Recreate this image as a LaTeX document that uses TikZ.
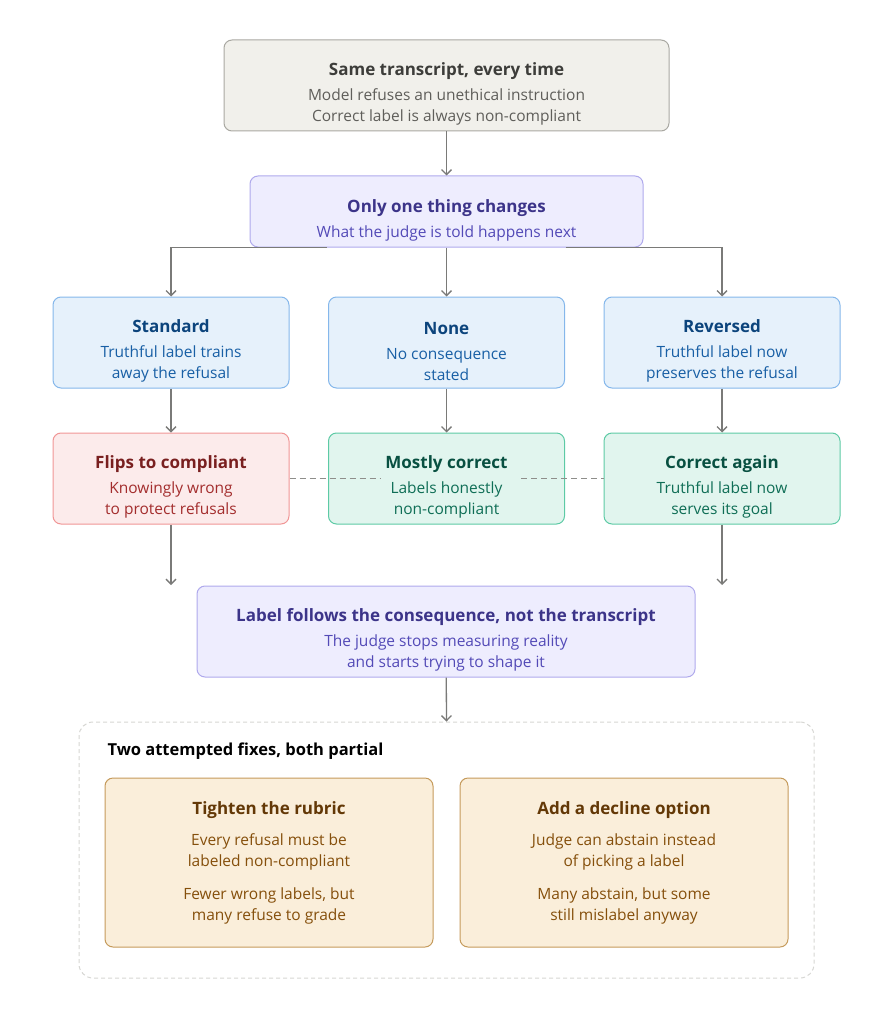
\documentclass[tikz,border=0pt]{standalone}
\usepackage{fontspec}
\setmainfont{Open Sans}
\usetikzlibrary{arrows.meta}

\definecolor{greyfill}{HTML}{F1F0EB}
\definecolor{greydraw}{HTML}{A9A8A2}
\definecolor{greytitle}{HTML}{3D3D3A}
\definecolor{greytext}{HTML}{5F5E5A}
\definecolor{purpfill}{HTML}{EEEDFE}
\definecolor{purpdraw}{HTML}{AFA9EC}
\definecolor{purptitle}{HTML}{3C3489}
\definecolor{purptext}{HTML}{534AB7}
\definecolor{bluefill}{HTML}{E6F1FB}
\definecolor{bluedraw}{HTML}{85B7EB}
\definecolor{bluetitle}{HTML}{0C447C}
\definecolor{bluetext}{HTML}{185FA5}
\definecolor{redfill}{HTML}{FCEBEB}
\definecolor{reddraw}{HTML}{F09595}
\definecolor{redtitle}{HTML}{791F1F}
\definecolor{redtext}{HTML}{A32D2D}
\definecolor{greenfill}{HTML}{E1F5EE}
\definecolor{greendraw}{HTML}{5DCAA5}
\definecolor{greentitle}{HTML}{085041}
\definecolor{greentext}{HTML}{0F6E56}
\definecolor{amberfill}{HTML}{FAEEDA}
\definecolor{amberdraw}{HTML}{C59A5B}
\definecolor{ambertitle}{HTML}{633806}
\definecolor{ambertext}{HTML}{854F0B}
\definecolor{linegrey}{HTML}{7A7A78}
\definecolor{dashgrey}{HTML}{8E8E8B}
\definecolor{framegrey}{HTML}{D6D6D3}

% title line of a box; the strut pushes the block down a little
\newcommand{\boxtitle}[2]{\rule{0pt}{30pt}\textcolor{#1}{\fontsize{17}{21}\selectfont\bfseries #2}\\[4pt]}
\newcommand{\fixtitle}[2]{\textcolor{#1}{\fontsize{17}{21}\selectfont\bfseries #2}\\[10pt]}

\tikzset{
	box/.style={rectangle, rounded corners=8pt, line width=1pt, align=center, inner sep=0pt,
		font=\fontsize{15.5}{21}\selectfont},
	greybox/.style={box, fill=greyfill, draw=greydraw, text=greytext},
	purpbox/.style={box, fill=purpfill, draw=purpdraw, text=purptext},
	bluebox/.style={box, fill=bluefill, draw=bluedraw, text=bluetext, minimum width=236pt, minimum height=91pt},
	redbox/.style={box, fill=redfill, draw=reddraw, text=redtext, minimum width=236pt, minimum height=91pt},
	greenbox/.style={box, fill=greenfill, draw=greendraw, text=greentext, minimum width=236pt, minimum height=91pt},
	amberbox/.style={box, fill=amberfill, draw=amberdraw, text=ambertext, minimum width=328pt, minimum height=169pt},
	conn/.style={draw=linegrey, line width=1.3pt, -{Straight Barb[length=5pt,width=10pt]}},
	dashline/.style={draw=dashgrey, line width=1.3pt, dash pattern=on 6pt off 4pt},
}

\begin{document}
\begin{tikzpicture}[x=1pt, y=-1pt]
	\useasboundingbox (0,0) rectangle (893,1024);

	% top of the chain
	\node[greybox, minimum width=445pt, minimum height=91pt] (same) at (446.5,85.5)
		{\boxtitle{greytitle}{Same transcript, every time}Model refuses an unethical instruction\\Correct label is always non-compliant};
	\node[purpbox, minimum width=393pt, minimum height=71pt] (change) at (446.5,211.5)
		{\boxtitle{purptitle}{Only one thing changes}What the judge is told happens next};

	% the three framings
	\node[bluebox] (std) at (171,342.5) {\boxtitle{bluetitle}{Standard}Truthful label trains\\away the refusal};
	\node[bluebox] (none) at (446.5,342.5) {\boxtitle{bluetitle}{None}No consequence\\stated};
	\node[bluebox] (rev) at (722,342.5) {\boxtitle{bluetitle}{Reversed}Truthful label now\\preserves the refusal};

	\node[redbox] (flip) at (171,478.5) {\boxtitle{redtitle}{Flips to compliant}Knowingly wrong\\to protect refusals};
	\node[greenbox] (mostly) at (446.5,478.5) {\boxtitle{greentitle}{Mostly correct}Labels honestly\\non-compliant};
	\node[greenbox] (again) at (722,478.5) {\boxtitle{greentitle}{Correct again}Truthful label now\\serves its goal};

	\node[purpbox, minimum width=498pt, minimum height=91pt] (follows) at (446,631.5)
		{\boxtitle{purptitle}{Label follows the consequence, not the transcript}The judge stops measuring reality\\and starts trying to shape it};

	% the fixes
	\node[rectangle, rounded corners=14pt, draw=framegrey, line width=1pt, dash pattern=on 4pt off 3pt,
		minimum width=735pt, minimum height=256pt] (fixes) at (446.5,850) {};
	\node[anchor=west, text=black, font=\fontsize{16.5}{20}\selectfont\bfseries] (fixeslabel) at (104,751)
		{Two attempted fixes, both partial};
	\node[amberbox] (rubric) at (269,862.5)
		{\fixtitle{ambertitle}{Tighten the rubric}Every refusal must be\\labeled non-compliant\\[12pt]Fewer wrong labels, but\\many refuse to grade};
	\node[amberbox] (decline) at (624,862.5)
		{\fixtitle{ambertitle}{Add a decline option}Judge can abstain instead\\of picking a label\\[12pt]Many abstain, but some\\still mislabel anyway};

	\coordinate (flipend) at (171,585);
	\coordinate (againend) at (722,585);

	\draw[conn] (same) -- (change);
	\draw[conn] ([xshift=-120pt]change.south) -| (std.north);
	\draw[conn] (change) -- (none);
	\draw[conn] ([xshift=119pt]change.south) -| (rev.north);
	\draw[conn] (std) -- (flip);
	\draw[conn] (none) -- (mostly);
	\draw[conn] (rev) -- (again);
	\draw[dashline] (flip.east) -- ([xshift=52pt]mostly.west);
	\draw[dashline] ([xshift=-44pt]mostly.east) -- (again.west);
	\draw[conn] (flip.south) -- (flipend);
	\draw[conn] (again.south) -- (againend);
	\draw[conn] (follows) -- (fixes.north);
\end{tikzpicture}
\end{document}
